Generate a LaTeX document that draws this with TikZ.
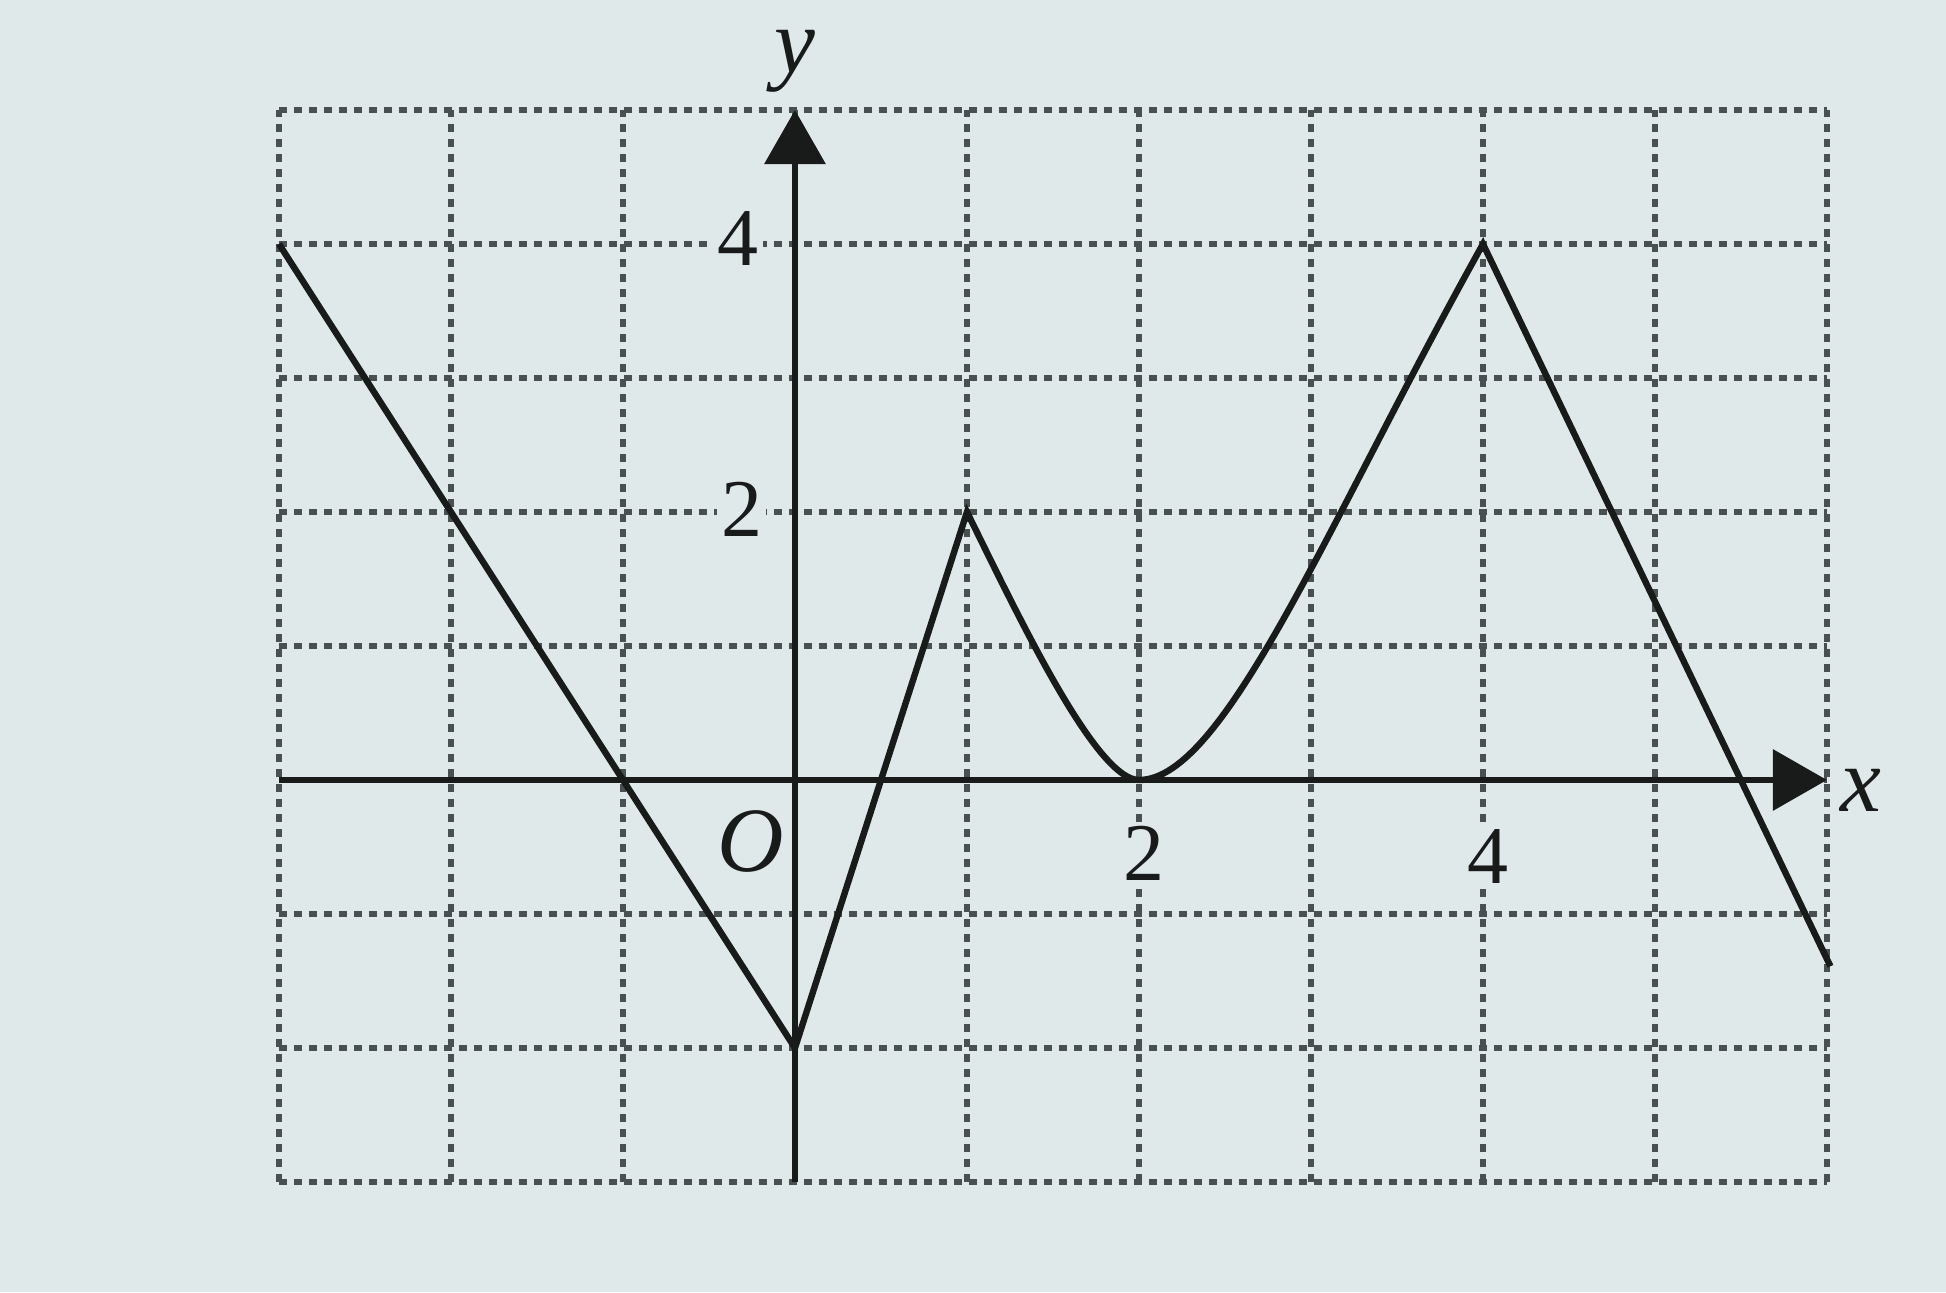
\documentclass[tikz,border=0pt]{standalone}
\usepackage{fontspec}
\setmainfont{Liberation Serif}
\usetikzlibrary{arrows.meta}
\definecolor{bg}{RGB}{224,233,234}
\definecolor{ink}{RGB}{25,27,27}
\definecolor{gridc}{RGB}{72,80,80}
\begin{document}
\begin{tikzpicture}[x=86pt,y=67pt,
  gridline/.style={gridc, line width=3pt, dash pattern=on 4pt off 3.5pt},
  axis/.style={ink, line width=3.2pt, -{Triangle[length=27pt,width=30pt]}},
  graph/.style={ink, line width=3.2pt, line join=miter},
  lbl/.style={ink, fill=bg, inner sep=2pt, font=\fontsize{41}{41}\selectfont},
  varlbl/.style={ink, inner sep=0pt, font=\fontsize{46}{46}\selectfont\itshape}]
\fill[bg] (-4.622,-3.821) rectangle (6.692,5.821);
\useasboundingbox (-4.622,-3.821) rectangle (6.692,5.821);
% grid
\foreach \i in {-3,...,6} \draw[gridline] (\i,-3) -- (\i,5);
\foreach \j in {-3,...,5} \draw[gridline] (-3,\j) -- (6,\j);
% key points
\coordinate (xs) at (-3,0);
\coordinate (xe) at (6,0);
\coordinate (ys) at (0,-3);
\coordinate (ye) at (0,5);
\coordinate (p1) at (-3,4);
\coordinate (p2) at (0,-2);
\coordinate (p3) at (1,2);
\coordinate (p4) at (2,0);
\coordinate (p5) at (4,4);
\coordinate (p6) at (6.02,-1.39);
% labels
\node[lbl] (y4) at (-0.33,4.04) {4};
\node[lbl] (y2) at (-0.31,2.02) {2};
\node[lbl] (x2) at (2.03,-0.55) {2};
\node[lbl] (x4) at (4.03,-0.57) {4};
\node[varlbl] (olab) at (-0.26,-0.46) {O};
\node[varlbl] (ylab) at (0,5.36) {y};
\node[varlbl] (xlab) at (6.2,-0.08) {x};
% axes
\draw[axis] (ys) -- (ye);
\draw[axis] (xs) -- (xe);
% graph
\draw[graph] (p1) -- (p2) -- (p3)
  .. controls (1.3,1.22) and (1.75,0) .. (p4)
  .. controls (2.5,0) and (3.1,1.93) .. (p5) -- (p6);
\end{tikzpicture}
\end{document}
